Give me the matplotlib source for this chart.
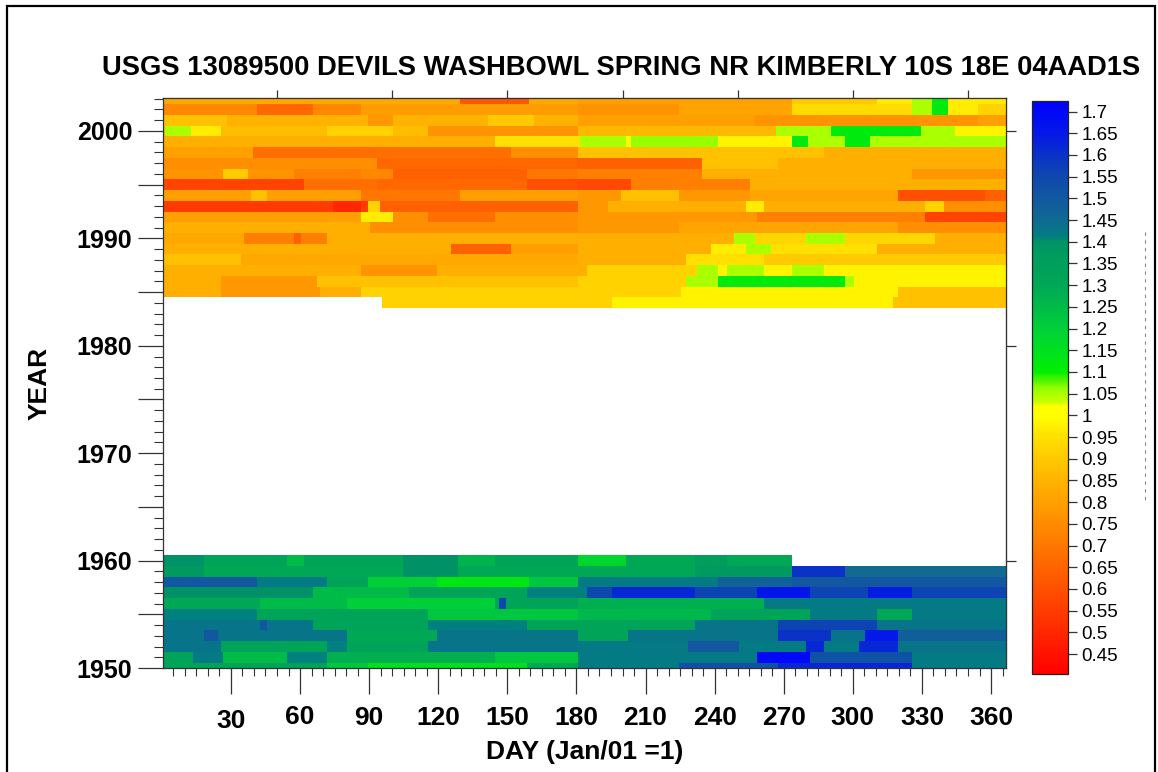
import numpy as np
import matplotlib
matplotlib.use("Agg")
import matplotlib.pyplot as plt
from matplotlib.colors import LinearSegmentedColormap, Normalize
from matplotlib.patches import Rectangle
from matplotlib.lines import Line2D
from matplotlib.transforms import ScaledTranslation

plt.rcParams['font.family'] = ['Liberation Sans', 'DejaVu Sans']

# ---------------- text ----------------
TITLE = "USGS 13089500 DEVILS WASHBOWL SPRING NR KIMBERLY 10S 18E 04AAD1S"
X_LABEL = "DAY (Jan/01 =1)"
Y_LABEL = "YEAR"

# ---------------- ticks ----------------
x_major_ticks = [30, 60, 90, 120, 150, 180, 210, 240, 270, 300, 330, 360]
x_top_ticks = [50, 100, 150, 200, 250, 300, 350]
y_major_ticks = [1950, 1955, 1960, 1965, 1970, 1975, 1980, 1985, 1990, 1995, 2000]
y_tick_labels = ["1950", "", "1960", "", "1970", "", "1980", "", "1990", "", "2000"]
y_right_ticks = [1960, 1980, 2000]
cbar_ticks = [0.45, 0.5, 0.55, 0.6, 0.65, 0.7, 0.75, 0.8, 0.85, 0.9, 0.95, 1.0,
              1.05, 1.1, 1.15, 1.2, 1.25, 1.3, 1.35, 1.4, 1.45, 1.5, 1.55, 1.6,
              1.65, 1.7]
cbar_min, cbar_max = 0.404, 1.725

# colour scale (value, colour)
cmap_values = [0.404, 0.55, 0.70, 0.85, 0.95, 1.0, 1.02, 1.03, 1.06, 1.08, 1.10,
               1.15, 1.20, 1.25, 1.30, 1.38, 1.405, 1.41, 1.45, 1.50, 1.55, 1.60,
               1.65, 1.725]
cmap_colors = ['#ff0000', '#ff3c00', '#ff7800', '#ffb400', '#ffe000', '#ffff00',
               '#ffff00', '#ccff00', '#99ff00', '#55f500', '#00f000', '#00e020',
               '#00d038', '#00bb48', '#00a855', '#009a60', '#009068', '#007f80',
               '#106a92', '#1258a0', '#0f48ad', '#0a32c8', '#0418e8', '#0000ff']

# ---------------- data: per-year runs of (first day, value) ----------------
y2003 = [(1, 0.82), (130, 0.62), (160, 0.82), (181, 0.80), (274, 0.90), (311, 0.97),
         (326, 1.05), (335, 1.12), (342, 0.97)]
y2002 = [(1, 0.74), (42, 0.66), (66, 0.74), (87, 0.79), (181, 0.77), (225, 0.81),
         (274, 0.94), (326, 1.05), (335, 1.12), (342, 0.97), (355, 0.92)]
y2001 = [(1, 0.88), (29, 0.85), (90, 0.78), (101, 0.85), (142, 0.90), (162, 0.85),
         (181, 0.80), (258, 0.77), (355, 0.80)]
y2000 = [(1, 0.86), (2, 1.05), (13, 0.97), (26, 0.87), (72, 0.92), (101, 0.87),
         (116, 0.77), (181, 0.86), (267, 1.05), (291, 1.12), (330, 1.05), (345, 0.98)]
y1999 = [(1, 0.84), (145, 0.95), (182, 1.05), (202, 0.99), (204, 1.06), (242, 0.98),
         (274, 1.12), (281, 1.05), (297, 1.12), (308, 1.05)]
y1998 = [(1, 0.80), (40, 0.68), (152, 0.76), (181, 0.88), (288, 0.84)]
y1997 = [(1, 0.76), (94, 0.66), (181, 0.64), (235, 0.88), (268, 0.84)]
y1996 = [(1, 0.77), (27, 0.90), (38, 0.77), (58, 0.72), (87, 0.74), (101, 0.64),
         (159, 0.70), (181, 0.72), (235, 0.84), (326, 0.78)]
y1995 = [(1, 0.57), (62, 0.68), (94, 0.66), (159, 0.60), (181, 0.58), (204, 0.72),
         (256, 0.84)]
y1994 = [(1, 0.80), (39, 0.88), (46, 0.80), (87, 0.70), (130, 0.80), (181, 0.78),
         (200, 0.88), (225, 0.78), (256, 0.81), (320, 0.60), (358, 0.64)]
y1993 = [(1, 0.55), (75, 0.50), (87, 0.55), (90, 0.92), (95, 0.64), (181, 0.78),
         (194, 0.84), (254, 0.97), (262, 0.84), (332, 0.92), (340, 0.76)]
y1992 = [(1, 0.80), (87, 0.97), (101, 0.76), (116, 0.68), (145, 0.76), (181, 0.78),
         (259, 0.72), (332, 0.57)]
y1991 = [(1, 0.84), (91, 0.76), (181, 0.78), (225, 0.81), (320, 0.76)]
y1990 = [(1, 0.82), (36, 0.72), (58, 0.64), (61, 0.72), (72, 0.84), (181, 0.84),
         (249, 1.05), (258, 0.93), (280, 1.05), (297, 0.93), (336, 0.84)]
y1989 = [(1, 0.84), (126, 0.64), (152, 0.80), (181, 0.84), (239, 0.97), (254, 1.05),
         (265, 0.95), (311, 0.84)]
y1988 = [(1, 0.88), (35, 0.82), (181, 0.84), (228, 0.95), (262, 0.90)]
y1987 = [(1, 0.84), (87, 0.77), (120, 0.84), (185, 0.92), (233, 1.05), (242, 0.98),
         (246, 1.05), (262, 0.98), (274, 1.05), (288, 0.98)]
y1986 = [(1, 0.84), (26, 0.78), (68, 0.88), (181, 0.92), (228, 1.05), (242, 1.12),
         (297, 1.05), (301, 0.98)]
y1985 = [(1, 0.84), (26, 0.78), (69, 0.84), (87, 0.92), (181, 0.92), (226, 0.98),
         (320, 0.88)]
y1984 = [(96, 0.92), (181, 0.92), (196, 0.98), (318, 0.88)]

y1960 = [(1, 1.40), (19, 1.32), (55, 1.25), (62, 1.32), (105, 1.40), (129, 1.27),
         (145, 1.32), (181, 1.18), (202, 1.30), (232, 1.36), (246, 1.30)]
y1959 = [(1, 1.38), (19, 1.30), (105, 1.40), (129, 1.30), (181, 1.30), (232, 1.38),
         (274, 1.60), (297, 1.45)]
y1958 = [(1, 1.50), (42, 1.42), (72, 1.32), (90, 1.20), (120, 1.13), (160, 1.22),
         (181, 1.42), (242, 1.47), (274, 1.50)]
y1957 = [(1, 1.40), (66, 1.25), (108, 1.32), (159, 1.41), (185, 1.55), (196, 1.62),
         (232, 1.56), (259, 1.66), (282, 1.56), (307, 1.64), (326, 1.56)]
y1956 = [(1, 1.30), (43, 1.25), (81, 1.20), (145, 1.32), (147, 1.55), (150, 1.32),
         (181, 1.28), (262, 1.42)]
y1955 = [(1, 1.41), (42, 1.32), (116, 1.22), (181, 1.26), (239, 1.32), (282, 1.42),
         (311, 1.30), (326, 1.42)]
y1954 = [(1, 1.43), (43, 1.50), (46, 1.43), (66, 1.32), (116, 1.41), (159, 1.32),
         (181, 1.32), (232, 1.43), (268, 1.56), (311, 1.43)]
y1953 = [(1, 1.43), (19, 1.50), (25, 1.43), (81, 1.30), (120, 1.43), (181, 1.32),
         (203, 1.43), (268, 1.60), (291, 1.43), (306, 1.65), (320, 1.48)]
y1952 = [(1, 1.43), (26, 1.32), (72, 1.41), (81, 1.32), (116, 1.43), (181, 1.42),
         (229, 1.50), (251, 1.42), (280, 1.62), (288, 1.42), (303, 1.62), (320, 1.43)]
y1951 = [(1, 1.32), (14, 1.42), (27, 1.25), (55, 1.41), (72, 1.28), (145, 1.22),
         (181, 1.42), (259, 1.70), (282, 1.52), (326, 1.42)]
y1950 = [(1, 1.32), (72, 1.22), (90, 1.15), (159, 1.30), (181, 1.42), (225, 1.52),
         (268, 1.62), (326, 1.42)]

data_rows = [(2003, y2003), (2002, y2002), (2001, y2001), (2000, y2000),
             (1999, y1999), (1998, y1998), (1997, y1997), (1996, y1996),
             (1995, y1995), (1994, y1994), (1993, y1993), (1992, y1992),
             (1991, y1991), (1990, y1990), (1989, y1989), (1988, y1988),
             (1987, y1987), (1986, y1986), (1985, y1985), (1984, y1984),
             (1960, y1960), (1959, y1959), (1958, y1958), (1957, y1957),
             (1956, y1956), (1955, y1955), (1954, y1954), (1953, y1953),
             (1952, y1952), (1951, y1951), (1950, y1950)]
last_day = {1960: 273}

# ---------------- build grid ----------------
days = np.arange(1, 367)
years = np.arange(1950, 2004)
Z = np.full((len(years), len(days)), np.nan)
for yr, runs in data_rows:
    starts = np.array([r[0] for r in runs])
    vals = np.array([r[1] for r in runs])
    idx = np.searchsorted(starts, days, side='right') - 1
    row = np.where(idx >= 0, vals[np.clip(idx, 0, None)], np.nan)
    row[days > last_day.get(yr, 366)] = np.nan
    Z[yr - 1950] = row
Z = np.ma.masked_invalid(Z)

span = cbar_max - cbar_min
cmap = LinearSegmentedColormap.from_list(
    "q", [((v - cbar_min) / span, c) for v, c in zip(cmap_values, cmap_colors)], N=512)
cmap.set_bad((1, 1, 1, 0))
norm = Normalize(cbar_min, cbar_max)

# ---------------- figure ----------------
W, H = 1158, 772
fig = plt.figure(figsize=(W / 100, H / 100), dpi=100)
fig.patch.set_facecolor('white')

ax = fig.add_axes([163 / W, 1 - 668 / H, (1006 - 163) / W, (668 - 98) / H])
mesh = ax.pcolormesh(np.arange(0.5, 367, 1.0), np.arange(1949.5, 2004.5, 1.0), Z,
                     cmap=cmap, norm=norm, shading='flat')
ax.set_xlim(0.5, 366.5)
ax.set_ylim(1950, 2003.07)

spine_c = '#333333'
for s in ax.spines.values():
    s.set_color(spine_c)
    s.set_linewidth(0.9)

ax.set_xticks(x_major_ticks)
ax.set_xticklabels([str(v) for v in x_major_ticks])
ax.set_xticks(np.arange(5, 366, 5), minor=True)
ax.set_yticks(y_major_ticks)
ax.set_yticklabels(y_tick_labels)
ax.set_yticks(np.arange(1950, 2004, 1), minor=True)

ax.tick_params(axis='x', which='major', direction='out', length=18.7, width=0.9,
               color=spine_c, pad=9, labelsize=19)
ax.tick_params(axis='x', which='minor', direction='out', length=5.8, width=0.8,
               color=spine_c)
ax.tick_params(axis='y', which='major', direction='out', length=18, width=0.9,
               color=spine_c, pad=4, labelsize=18)
ax.tick_params(axis='y', which='minor', direction='out', length=6.5, width=0.8,
               color=spine_c)
for lab in ax.get_xticklabels() + ax.get_yticklabels():
    lab.set_fontweight('bold')
# small vertical quirks of the first two day labels
xl = ax.get_xticklabels()
xl[0].set_transform(xl[0].get_transform() + ScaledTranslation(0, -0.03, fig.dpi_scale_trans))
xl[1].set_transform(xl[1].get_transform() + ScaledTranslation(0, 0.01, fig.dpi_scale_trans))

top = ax.secondary_xaxis('top')
top.set_xticks(x_top_ticks)
top.set_xticklabels([])
top.tick_params(direction='out', length=6, width=0.9, color=spine_c)
top.spines['top'].set_color(spine_c)

right = ax.secondary_yaxis('right')
right.set_yticks(y_right_ticks)
right.set_yticklabels([])
right.tick_params(direction='out', length=7, width=0.9, color=spine_c)
right.spines['right'].set_color(spine_c)

ax.set_xlabel(X_LABEL, fontsize=19, fontweight='bold')
ax.xaxis.label.set_va('center')
ax.xaxis.set_label_coords(0.5, -(752 - 668) / 570)
ax.set_ylabel(Y_LABEL, fontsize=19, fontweight='bold')
ax.yaxis.label.set_va('center')
ax.yaxis.set_label_coords((40 - 163) / 843, 0.5)

fig.text(621.5 / W, 1 - 75 / H, TITLE, ha='center', va='baseline',
         fontsize=19.7, fontweight='bold')

# colour bar
cax = fig.add_axes([1032 / W, 1 - 674 / H, 36 / W, (674 - 100.7) / H])
cb = fig.colorbar(mesh, cax=cax)
cb.set_ticks(cbar_ticks)
cb.set_ticklabels([f"{v:g}" for v in cbar_ticks])
cb.ax.tick_params(direction='out', length=6.5, width=0.9, color=spine_c,
                  pad=3.4, labelsize=13.5)
cb.outline.set_edgecolor('#222222')
cb.outline.set_linewidth(0.9)
cb.ax.minorticks_off()

# outer frame
fig.add_artist(Rectangle((7 / W, -0.1), (1155 - 7) / W, 1 - 6 / H + 0.1,
                         transform=fig.transFigure, fill=False,
                         edgecolor='black', linewidth=1.6, clip_on=False))
# clipped label remnant at right edge
fig.add_artist(Line2D([1145 / W, 1145 / W], [1 - 232 / H, 1 - 502 / H],
                      transform=fig.transFigure, color='#888888', lw=0.8,
                      ls=(0, (3, 4))))

fig.savefig("out.png", dpi=100)
